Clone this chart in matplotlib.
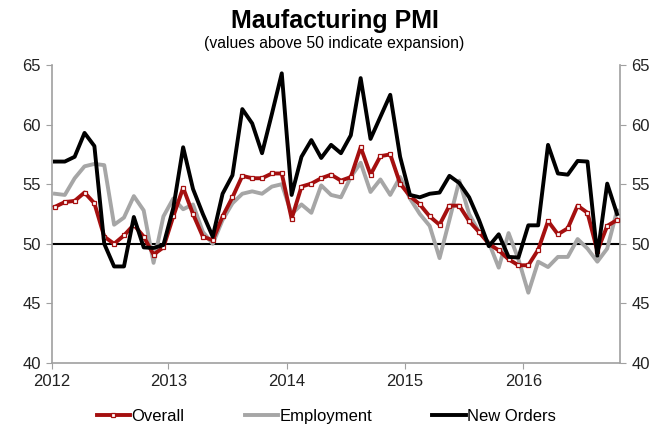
import numpy as np
import matplotlib
matplotlib.use("Agg")
import matplotlib.pyplot as plt

plt.rcParams['font.family'] = ['Liberation Sans', 'DejaVu Sans']

# monthly readings, Jan 2012 - Oct 2016
overall = [53.1, 53.5, 53.6, 54.3, 53.4, 50.6, 50.0, 50.7, 51.6, 50.6, 49.1, 49.7,
           52.3, 54.7, 52.5, 50.6, 50.3, 52.3, 53.9, 55.7, 55.5, 55.5, 55.9, 55.9,
           52.1, 54.8, 55.05, 55.5, 55.8, 55.3, 55.6, 58.1, 55.8, 57.35, 57.5, 55.05,
           54.0, 53.3, 52.3, 51.6, 53.2, 53.2, 51.9, 51.0, 50.0, 49.45, 48.7, 48.2,
           48.2, 49.5, 51.9, 50.8, 51.3, 53.2, 52.6, 49.4, 51.5, 52.0]
employment = [54.2, 54.1, 55.5, 56.5, 56.7, 56.6, 51.6, 52.2, 54.0, 52.8, 48.4, 52.3,
              53.8, 52.9, 53.3, 51.0, 50.0, 52.0, 53.4, 54.2, 54.4, 54.2, 54.8, 55.0,
              52.5, 53.3, 52.6, 54.9, 54.1, 53.9, 55.6, 56.8, 54.35, 55.4, 54.1, 55.6,
              53.8, 52.5, 51.5, 48.8, 52.0, 55.3, 52.5, 51.0, 50.1, 48.0, 50.9, 48.7,
              45.9, 48.5, 48.05, 48.9, 48.9, 50.4, 49.6, 48.5, 49.6, 52.8]
new_orders = [56.9, 56.9, 57.3, 59.3, 58.2, 50.0, 48.1, 48.1, 52.25, 49.7, 49.65, 49.9,
              53.0, 58.1, 54.6, 52.5, 50.6, 54.2, 55.75, 61.3, 60.1, 57.6, 60.9, 64.3,
              54.1, 57.3, 58.7, 57.2, 58.3, 57.6, 59.1, 63.9, 58.8, 60.65, 62.5, 57.3,
              54.1, 53.9, 54.2, 54.3, 55.7, 55.1, 53.9, 52.0, 49.8, 50.8, 48.9, 48.85,
              51.55, 51.55, 58.3, 55.9, 55.8, 56.95, 56.9, 49.0, 55.05, 52.5]
years = ['2012', '2013', '2014', '2015', '2016']
yticks = [40, 45, 50, 55, 60, 65]

red = '#a50f0f'
gray = '#a6a6a6'
axis_gray = '#a0a0a0'

x = np.arange(len(overall))

fig = plt.figure(figsize=(6.69, 4.29), dpi=100)
ax = fig.add_axes([0.0777, 0.1538, 0.8491, 0.6947])

ax.axhline(50, color='black', lw=1.5, zorder=1)
ax.plot(x, employment, color=gray, lw=2.8, zorder=2, label='Employment')
ax.plot(x, overall, color=red, lw=2.8, marker='s', ms=3.2, mfc='white', mec=red,
        mew=0.9, zorder=3, label='Overall')
ax.plot(x, new_orders, color='black', lw=2.8, zorder=4, label='New Orders')

ax.set_xlim(-0.3, 57.3)
ax.set_ylim(40, 65)
ax.set_xticks([-0.3] + [12 * k - 0.5 for k in range(1, len(years))])
ax.set_xticklabels(years)
ax.set_yticks(yticks)

ax.spines['top'].set_visible(False)
for s in ['left', 'right', 'bottom']:
    ax.spines[s].set_color(axis_gray)
    ax.spines[s].set_linewidth(1.2)
ax.tick_params(axis='both', direction='out', length=4, color=axis_gray, labelsize=12,
               labelcolor='#222222', pad=4)
ax.tick_params(axis='y', labelleft=True, labelright=True, left=True, right=True)

fig.text(0.5, 0.951, 'Maufacturing PMI', ha='center', va='center', fontsize=18,
         fontweight='bold')
fig.text(0.5, 0.898, '(values above 50 indicate expansion)', ha='center',
         va='center', fontsize=11.3)

h, l = ax.get_legend_handles_labels()
order = [1, 0, 2]
fig.legend([h[i] for i in order], [l[i] for i in order], loc='center',
           bbox_to_anchor=(0.488, 0.03), ncol=3, frameon=False, fontsize=12,
           handlelength=2.0, handletextpad=0.1, columnspacing=3.6)

fig.savefig('out.png', dpi=100)
